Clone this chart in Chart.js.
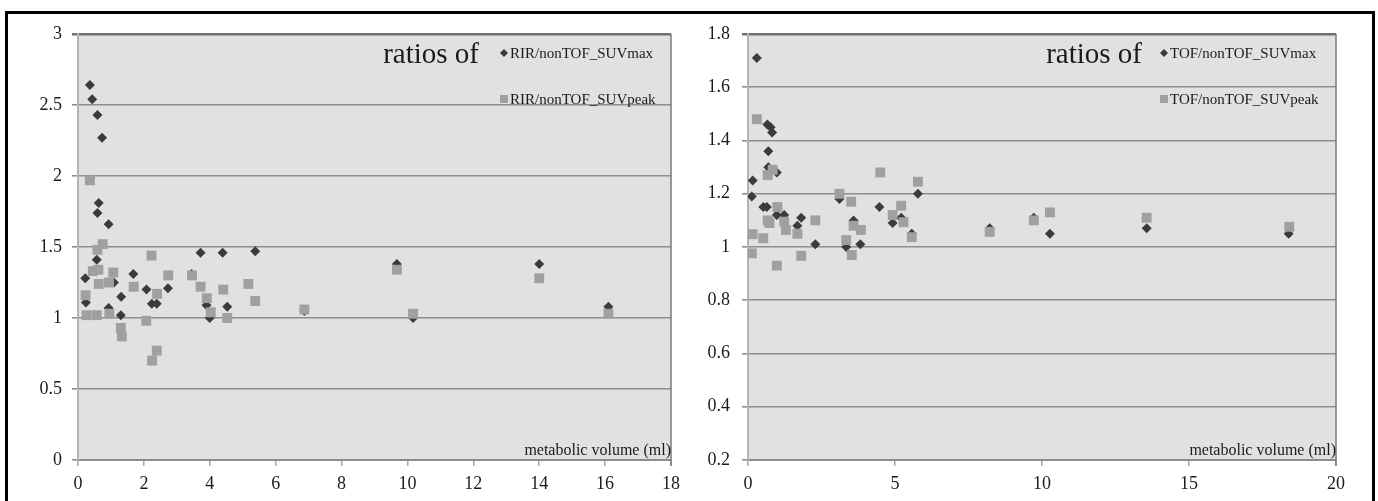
<!DOCTYPE html>
<html><head><meta charset="utf-8">
<script src="https://cdn.jsdelivr.net/npm/chart.js@4/dist/chart.umd.min.js"></script>
<style>
html,body{margin:0;padding:0;background:#fff;width:1378px;height:501px;overflow:hidden;}
#frame{position:absolute;left:5px;top:11px;width:1364px;height:540px;border:3px solid #000;}
.cw{position:absolute;top:0;width:689px;height:501px;}
</style></head><body>
<div id="frame"></div>
<div class="cw" style="left:0"><canvas id="c1" width="689" height="501"></canvas></div>
<div class="cw" style="left:689px"><canvas id="c2" width="689" height="501"></canvas></div>
<script>
// ---- data ----
const leftMaxVol   = [0.36,0.43,0.59,0.73,0.63,0.59,0.93,0.57,0.22,0.24,1.09,0.93,1.31,1.30,1.68,2.08,2.24,2.39,2.73,3.45,3.72,3.90,4.00,4.39,4.53,5.38,6.87,9.68,10.17,14.0,16.1];
const leftMaxRatio = [2.64,2.54,2.43,2.27,1.81,1.74,1.66,1.41,1.28,1.11,1.25,1.07,1.15,1.02,1.31,1.20,1.10,1.10,1.21,1.31,1.46,1.09,1.00,1.46,1.08,1.47,1.05,1.38,1.00,1.38,1.08];
const leftPeakVol   = [0.36,0.75,0.59,2.23,0.45,0.62,1.07,0.23,0.63,0.94,0.26,0.57,0.95,1.30,1.33,1.69,2.07,2.40,2.39,2.25,2.74,3.46,3.72,3.91,4.03,4.41,4.53,5.17,5.38,6.87,9.68,10.17,14.0,16.1];
const leftPeakRatio = [1.97,1.52,1.48,1.44,1.33,1.34,1.32,1.16,1.24,1.25,1.02,1.02,1.03,0.93,0.87,1.22,0.98,1.17,0.77,0.70,1.30,1.30,1.22,1.14,1.04,1.20,1.00,1.24,1.12,1.06,1.34,1.03,1.28,1.03];

const rightMaxVol   = [0.30,0.66,0.77,0.82,0.69,0.69,0.98,0.16,0.13,3.11,4.47,5.78,0.52,0.64,0.98,1.23,1.81,1.68,2.29,3.59,3.34,3.82,4.92,5.21,5.57,8.22,9.72,10.27,13.56,18.39];
const rightMaxRatio = [1.71,1.46,1.45,1.43,1.36,1.30,1.28,1.25,1.19,1.18,1.15,1.20,1.15,1.15,1.12,1.12,1.11,1.08,1.01,1.10,1.00,1.01,1.09,1.11,1.05,1.07,1.11,1.05,1.07,1.05];
const rightPeakVol   = [0.30,0.84,0.67,3.11,3.51,4.50,5.78,5.21,1.00,0.67,0.73,1.23,1.29,1.68,2.29,1.81,0.98,0.16,0.52,0.13,3.59,3.84,3.34,3.53,4.92,5.29,5.57,8.22,9.72,10.27,13.56,18.41];
const rightPeakRatio = [1.48,1.29,1.27,1.20,1.17,1.28,1.245,1.155,1.15,1.10,1.09,1.095,1.064,1.05,1.10,0.967,0.93,1.048,1.033,0.976,1.08,1.064,1.026,0.97,1.12,1.093,1.037,1.057,1.10,1.13,1.11,1.076];

const leftXTicks  = ['0','2','4','6','8','10','12','14','16','18'];
const leftYTicks  = ['0','0.5','1','1.5','2','2.5','3'];
const rightXTicks = ['0','5','10','15','20'];
const rightYTicks = ['0.2','0.4','0.6','0.8','1','1.2','1.4','1.6','1.8'];

const leftLabels  = ['RIR/nonTOF_SUVmax','RIR/nonTOF_SUVpeak'];
const rightLabels = ['TOF/nonTOF_SUVmax','TOF/nonTOF_SUVpeak'];
const legendTitle = 'ratios of';
const xAxisTitle  = 'metabolic volume (ml)';

// ---- styling ----
const SERIF = '"Liberation Serif","Times New Roman",serif';
const DARK = '#3b3b3b', LIGHT = '#a0a0a0', BG = '#e1e1e1';

const pts = (xs, ys) => xs.map((x, i) => ({x, y: ys[i]}));

const decor = {
  id: 'decor',
  beforeDraw(chart) {
    const a = chart.chartArea, ctx = chart.ctx;
    ctx.save();
    ctx.fillStyle = BG;
    ctx.fillRect(a.left, a.top, a.right - a.left, a.bottom - a.top);
    ctx.restore();
  },
  afterDraw(chart, args, o) {
    const a = chart.chartArea, ctx = chart.ctx;
    ctx.save();
    ctx.strokeStyle = '#7a7a7a'; ctx.lineWidth = 1.5;
    ctx.beginPath(); ctx.moveTo(a.right, a.top); ctx.lineTo(a.right, a.bottom + 6); ctx.stroke();
    // legend
    ctx.fillStyle = '#1a1a1a';
    ctx.textBaseline = 'alphabetic';
    ctx.textAlign = 'right';
    ctx.font = '29px ' + SERIF;
    ctx.fillText(legendTitle, a.right - o.titleGap, a.top + 29);
    ctx.textAlign = 'left';
    ctx.font = '15px ' + SERIF;
    const lx = a.right - o.legendGap;
    // diamond marker
    ctx.fillStyle = DARK;
    let cy = a.top + o.row1;
    ctx.beginPath(); ctx.moveTo(lx, cy - 4); ctx.lineTo(lx + 4, cy); ctx.lineTo(lx, cy + 4); ctx.lineTo(lx - 4, cy); ctx.closePath(); ctx.fill();
    ctx.fillStyle = '#1a1a1a';
    ctx.fillText(o.labels[0], lx + 6, cy + 5);
    // square marker
    cy = a.top + o.row2;
    ctx.fillStyle = LIGHT;
    ctx.fillRect(lx - 4, cy - 4, 8, 8);
    ctx.fillStyle = '#1a1a1a';
    ctx.fillText(o.labels[1], lx + 6, cy + 5);
    // x-axis title inside plot
    ctx.textAlign = 'right';
    ctx.font = '16px ' + SERIF;
    ctx.fillText(xAxisTitle, a.right, a.bottom - 5);
    ctx.restore();
  }
};

function makeChart(id, cfg) {
  const yStep = cfg.yStep, yMin = cfg.yMin;
  return new Chart(document.getElementById(id), {
    type: 'scatter',
    data: {
      datasets: [
        { label: cfg.labels[0], data: pts(cfg.maxVol, cfg.maxRatio), pointStyle: 'rectRot', pointRadius: 5, pointHoverRadius: 5,
          backgroundColor: DARK, borderColor: DARK, borderWidth: 0, order: 2 },
        { label: cfg.labels[1], data: pts(cfg.peakVol, cfg.peakRatio), pointStyle: 'rect', pointRadius: 7, pointHoverRadius: 7,
          backgroundColor: LIGHT, borderColor: LIGHT, borderWidth: 0, order: 1 }
      ]
    },
    options: {
      responsive: false, animation: false, events: [],
      layout: { padding: { top: 34, right: cfg.padRight, left: 0, bottom: 0 } },
      plugins: {
        legend: { display: false }, tooltip: { enabled: false },
        decor: { labels: cfg.labels, titleGap: cfg.titleGap, legendGap: cfg.legendGap, row1: 19, row2: 65 }
      },
      scales: {
        x: {
          type: 'linear', min: 0, max: cfg.xMax,
          ticks: { stepSize: cfg.xStep, padding: 7, color: '#1a1a1a', font: { family: SERIF, size: 18 },
                   callback: (v) => cfg.xTicks[Math.round(v / cfg.xStep)] },
          grid: { drawOnChartArea: false, drawTicks: true, tickLength: 6, color: '#a8a8a8', lineWidth: 1.5 },
          border: { display: true, color: '#8c8c8c', width: 2 },
          afterFit: (s) => { s.height = 41; }
        },
        y: {
          type: 'linear', min: cfg.yMin, max: cfg.yMax,
          ticks: { stepSize: yStep, padding: cfg.yPad, color: '#1a1a1a', font: { family: SERIF, size: 18 },
                   callback: (v) => cfg.yTicks[Math.round((v - yMin) / yStep)] },
          grid: { drawTicks: true, tickLength: 6,
                  color: (c) => (c.index === cfg.yTicks.length - 1 ? '#707070' : '#8e8e8e'),
                  lineWidth: (c) => (c.index === cfg.yTicks.length - 1 ? 2.5 : 1.6) },
          border: { display: true, color: '#b4b4b4', width: 2 },
          afterFit: (s) => { s.width = cfg.yWidth; }
        }
      }
    },
    plugins: [decor]
  });
}

makeChart('c1', {
  maxVol: leftMaxVol, maxRatio: leftMaxRatio, peakVol: leftPeakVol, peakRatio: leftPeakRatio,
  labels: leftLabels, xTicks: leftXTicks, yTicks: leftYTicks,
  xMax: 18, xStep: 2, yMin: 0, yMax: 3, yStep: 0.5,
  padRight: 18, yWidth: 78, yPad: 10, titleGap: 192, legendGap: 167
});
makeChart('c2', {
  maxVol: rightMaxVol, maxRatio: rightMaxRatio, peakVol: rightPeakVol, peakRatio: rightPeakRatio,
  labels: rightLabels, xTicks: rightXTicks, yTicks: rightYTicks,
  xMax: 20, xStep: 5, yMin: 0.2, yMax: 1.8, yStep: 0.2,
  padRight: 42, yWidth: 59, yPad: 12, titleGap: 194, legendGap: 172
});
</script>
</body></html>
